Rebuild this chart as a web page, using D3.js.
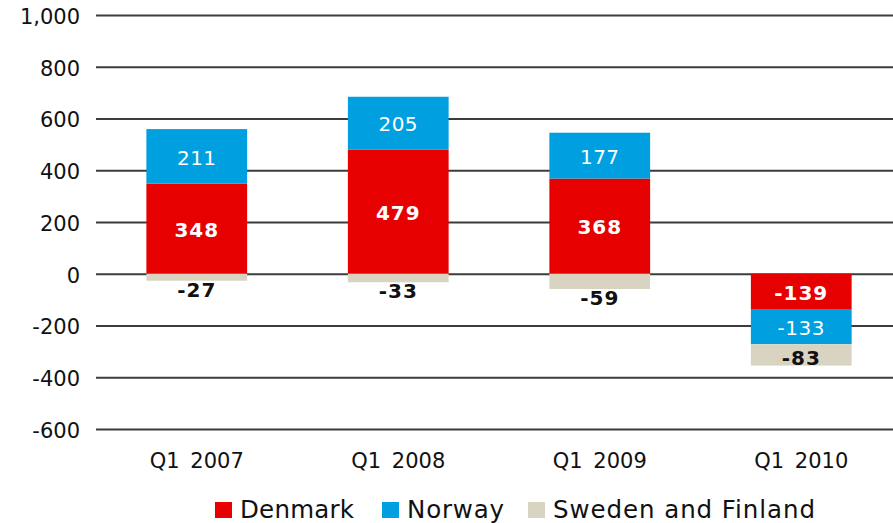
<!DOCTYPE html>
<html>
<head>
<meta charset="utf-8">
<script src="https://cdn.jsdelivr.net/npm/d3@7"></script>
<style>
  body { margin: 0; background: #fff; }
  svg { display: block; }
  svg text { font-family: "DejaVu Sans", Verdana, sans-serif; }
</style>
</head>
<body>
<svg id="chart" width="893" height="523"></svg>
<script>
//////////////////// DATA ////////////////////
const quarters = ["Q1 2007", "Q1 2008", "Q1 2009", "Q1 2010"];
const denmark = [348, 479, 368, -139];
const norway = [211, 205, 177, -133];
const swedenFinland = [-27, -33, -59, -83];
const yTicks = [-600, -400, -200, 0, 200, 400, 600, 800, 1000];

const seriesNames = ["Denmark", "Norway", "Sweden and Finland"];
const seriesColors = ["#e60000", "#009fdf", "#d9d4c2"];

//////////////////// SIZES ////////////////////
const svg = d3.select("#chart");
const plot = { left: 96, right: 902, top: 15, bottom: 429 };

//////////////////// SCALES ////////////////////
const x = d3.scaleBand()
    .domain(quarters)
    .range([plot.left, plot.right])
    .paddingInner(0.5)
    .paddingOuter(0.25);

const y = d3.scaleLinear()
    .domain([-600, 1000])
    .range([plot.bottom, plot.top]);

// hyphen instead of unicode minus, like the original
const fmt = d => d3.format(",")(d).replace("\u2212", "-");

//////////////////// GRID + Y AXIS ////////////////////
const yAxis = d3.axisLeft(y)
    .tickValues(yTicks)
    .tickSize(-(plot.right - plot.left))
    .tickPadding(16)
    .tickFormat(fmt);

svg.append("g")
    .attr("transform", `translate(${plot.left},0)`)
    .call(yAxis)
    .call(g => g.select(".domain").remove())
    .call(g => g.selectAll("line").attr("stroke", "#3c3c3c").attr("stroke-width", 2))
    .call(g => g.selectAll("text")
        .attr("font-size", 21)
        .attr("fill", "#111")
        .attr("dy", "0.4em"));

//////////////////// STACK BARS ////////////////////
// positive and negative values stack separately
const series = [denmark, norway, swedenFinland];
const segments = [];
quarters.forEach((q, i) => {
    let pos = 0, neg = 0;
    series.forEach((s, k) => {
        const v = s[i];
        let y0, y1;
        if (v >= 0) { y0 = pos; y1 = pos + v; pos = y1; }
        else { y0 = neg; y1 = neg + v; neg = y1; }
        segments.push({ q, k, v, y0, y1 });
    });
});

svg.append("g")
    .selectAll("rect")
    .data(segments)
    .join("rect")
    .attr("x", d => x(d.q))
    .attr("width", x.bandwidth())
    .attr("y", d => y(Math.max(d.y0, d.y1)))
    .attr("height", d => Math.abs(y(d.y0) - y(d.y1)))
    .attr("fill", d => seriesColors[d.k]);

//////////////////// VALUE LABELS ////////////////////
svg.append("g")
    .selectAll("text")
    .data(segments)
    .join("text")
    .attr("x", d => x(d.q) + x.bandwidth() / 2)
    .attr("y", d => {
        const top = y(Math.max(d.y0, d.y1));
        const bot = y(Math.min(d.y0, d.y1));
        if (bot - top < 20) return bot + 9;
        return (top + bot) / 2 + (d.k === 2 ? 3 : 1);
    })
    .attr("dy", "0.36em")
    .attr("text-anchor", "middle")
    .attr("font-size", 20)
    .attr("font-weight", d => d.k === 1 ? "normal" : "bold")
    .attr("letter-spacing", d => d.k === 1 ? 0.5 : 1)
    .attr("fill", d => d.k === 2 ? "#111" : "#fff")
    .text(d => d.v);

//////////////////// X AXIS ////////////////////
svg.append("g")
    .attr("transform", `translate(0,${plot.bottom})`)
    .call(d3.axisBottom(x).tickSize(0).tickPadding(24))
    .call(g => g.select(".domain").remove())
    .call(g => g.selectAll("text")
        .attr("font-size", 21)
        .attr("fill", "#111")
        .attr("word-spacing", 4));

//////////////////// LEGEND ////////////////////
const legendX = [215, 382, 528];
const legendW = [114, 97, 262];
const legend = svg.append("g")
    .selectAll("g")
    .data(seriesNames)
    .join("g")
    .attr("transform", (d, i) => `translate(${legendX[i]},502)`);

legend.append("rect")
    .attr("width", 17)
    .attr("height", 16)
    .attr("fill", (d, i) => seriesColors[i]);

legend.append("text")
    .attr("x", 25)
    .attr("y", 16)
    .attr("font-size", 24.5)
    .attr("fill", "#111")
    .attr("textLength", (d, i) => legendW[i])
    .attr("lengthAdjust", "spacing")
    .text(d => d);
</script>
</body>
</html>
